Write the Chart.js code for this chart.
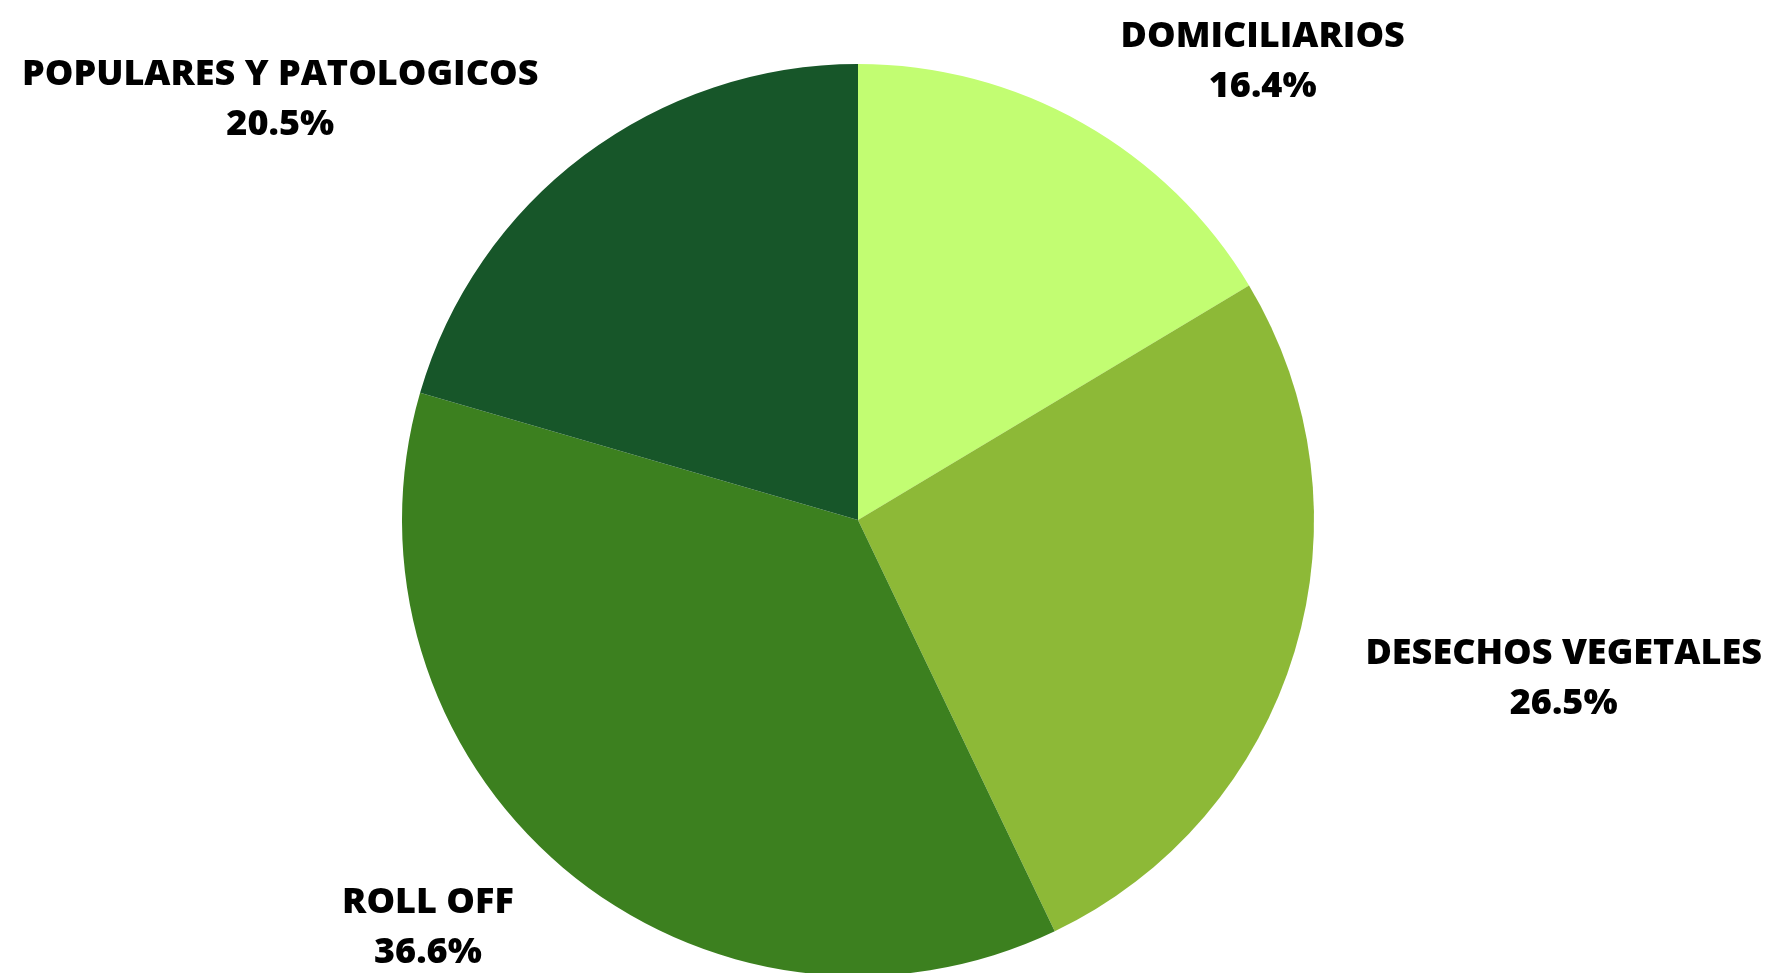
<!DOCTYPE html>
<html>
<head>
<meta charset="utf-8">
<script src="https://cdn.jsdelivr.net/npm/chart.js@4"></script>
<style>
  html, body { margin: 0; padding: 0; background: #fff; overflow: hidden; }
  #wrap { position: absolute; left: 0; top: 0; width: 1771px; height: 980px; }
</style>
</head>
<body>
<div id="wrap"><canvas id="pie"></canvas></div>
<script>
const categories = ['DOMICILIARIOS', 'DESECHOS VEGETALES', 'ROLL OFF', 'POPULARES Y PATOLOGICOS'];
const shares = [16.4, 26.5, 36.6, 20.5];
const sliceColors = ['#c2fd72', '#8db937', '#3c801f', '#175629'];
// label offset from the slice's outer edge midpoint (px)
const labelOffsets = [[180, -61], [269, 27], [-135, 60], [-304, -56]];

const outsideLabels = {
    id: 'outsideLabels',
    afterDatasetsDraw(chart) {
        const ctx = chart.ctx;
        const meta = chart.getDatasetMeta(0);
        ctx.save();
        ctx.fillStyle = '#000';
        ctx.font = '800 36px "Open Sans"';
        ctx.textAlign = 'center';
        ctx.textBaseline = 'middle';
        meta.data.forEach((arc, i) => {
            const p = arc.getProps(['x', 'y', 'startAngle', 'endAngle', 'outerRadius'], true);
            const mid = (p.startAngle + p.endAngle) / 2;
            const x = p.x + Math.cos(mid) * p.outerRadius + labelOffsets[i][0];
            const y = p.y + Math.sin(mid) * p.outerRadius + labelOffsets[i][1];
            ctx.fillText(categories[i], x, y - 25);
            ctx.fillText(shares[i].toFixed(1) + '%', x, y + 25);
        });
        ctx.restore();
    }
};

new Chart(document.getElementById('pie'), {
    type: 'pie',
    data: {
        labels: categories,
        datasets: [{
            data: shares,
            backgroundColor: sliceColors,
            borderWidth: 0
        }]
    },
    options: {
        responsive: true,
        maintainAspectRatio: false,
        animation: false,
        layout: { padding: { top: 64, bottom: 4, left: 0, right: 55 } },
        plugins: { legend: { display: false }, tooltip: { enabled: false } }
    },
    plugins: [outsideLabels]
});
</script>
</body>
</html>
